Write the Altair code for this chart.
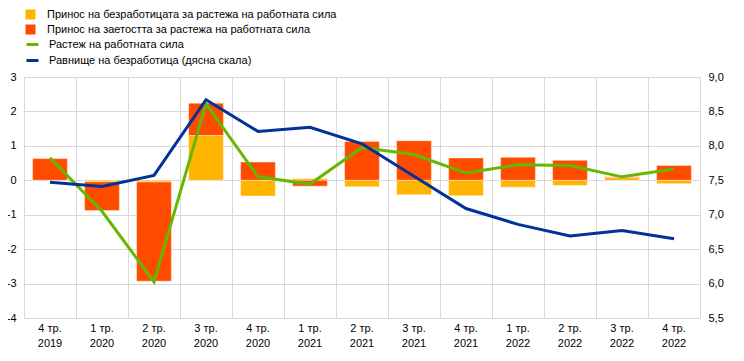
import altair as alt
import pandas as pd

quarters = ["4 тр.|2019", "1 тр.|2020", "2 тр.|2020", "3 тр.|2020", "4 тр.|2020",
            "1 тр.|2021", "2 тр.|2021", "3 тр.|2021", "4 тр.|2021",
            "1 тр.|2022", "2 тр.|2022", "3 тр.|2022", "4 тр.|2022"]
unemp_contrib = [0.0, -0.04, -0.05, 1.30, -0.46, 0.05, -0.19, -0.42, -0.45, -0.20, -0.15, 0.08, -0.10]
emp_contrib = [0.63, -0.84, -2.88, 0.94, 0.53, -0.17, 1.13, 1.15, 0.65, 0.67, 0.58, 0.02, 0.43]
labour_growth = [0.65, -0.90, -2.95, 2.22, 0.10, -0.11, 0.95, 0.75, 0.21, 0.45, 0.43, 0.10, 0.33]
unemp_rate = [7.47, 7.41, 7.57, 8.67, 8.21, 8.27, 8.03, 7.56, 7.09, 6.86, 6.69, 6.77, 6.65]

s_unemp = "Принос на безработицата за растежа на работната сила"
s_emp = "Принос на заетостта за растежа на работната сила"
s_lab = "Растеж на работната сила"
s_rate = "Равнище на безработица (дясна скала)"

bars = pd.DataFrame({
    "q": quarters * 2,
    "v": unemp_contrib + emp_contrib,
    "s": [s_unemp] * len(quarters) + [s_emp] * len(quarters),
    "o": [0] * len(quarters) + [1] * len(quarters),
})
lab = pd.DataFrame({"q": quarters, "v": labour_growth, "s": s_lab})
rate = pd.DataFrame({"q": quarters, "v": unemp_rate, "s": s_rate})

FONT = "Liberation Sans"
GRID = "#d9d9d9"

x = alt.X("q:N", sort=quarters, title=None,
          scale=alt.Scale(paddingInner=0, paddingOuter=0),
          axis=alt.Axis(labelExpr="split(datum.label, '|')", labelAngle=0,
                        ticks=False, domainColor=GRID, grid=True, gridColor=GRID,
                        bandPosition=0, labelPadding=4, labelFontSize=11,
                        labelLineHeight=15, labelFont=FONT, labelColor="#000"))

bar_layer = alt.Chart(bars).mark_bar(
    width=alt.RelativeBandSize(0.67), stroke="white", strokeWidth=1, strokeOpacity=0.45
).encode(
    x=x,
    y=alt.Y("v:Q", stack="zero", title=None,
            scale=alt.Scale(domain=[-4, 3], nice=False, zero=False),
            axis=alt.Axis(values=[-4, -3, -2, -1, 0, 1, 2, 3], labelExpr="toString(datum.value)",
                          ticks=False, domainColor=GRID, gridColor=GRID, labelPadding=8,
                          labelFontSize=11, labelFont=FONT, labelColor="#000")),
    fill=alt.Fill("s:N", scale=alt.Scale(domain=[s_unemp, s_emp], range=["#FFB400", "#FF4B00"]),
                  legend=alt.Legend(title=None, orient="none", legendX=1, legendY=-68,
                                    symbolType="square", symbolSize=100, labelOffset=11,
                                    rowPadding=3, labelFontSize=11, labelFont=FONT,
                                    labelLimit=600, labelColor="#000", symbolStrokeWidth=0)),
    order=alt.Order("o:Q"),
)

stroke_scale = alt.Scale(domain=[s_lab, s_rate], range=["#65B800", "#003299"])
stroke_legend = alt.Legend(title=None, orient="none", legendX=1, legendY=-40,
                           symbolType="stroke", symbolSize=144, symbolStrokeWidth=3,
                           labelOffset=9, rowPadding=2, labelFontSize=11, labelLimit=600,
                           labelFont=FONT, labelColor="#000")

lab_layer = alt.Chart(lab).mark_line(strokeWidth=3).encode(
    x=x,
    y=alt.Y("v:Q", scale=alt.Scale(domain=[-4, 3], nice=False, zero=False), axis=None),
    stroke=alt.Stroke("s:N", scale=stroke_scale, legend=stroke_legend),
)

rate_layer = alt.Chart(rate).mark_line(strokeWidth=3).encode(
    x=x,
    y=alt.Y("v:Q", title=None, scale=alt.Scale(domain=[5.5, 9.0], nice=False, zero=False),
            axis=alt.Axis(orient="right", values=[5.5, 6.0, 6.5, 7.0, 7.5, 8.0, 8.5, 9.0],
                          labelExpr="replace(format(datum.value, '.1f'), '.', ',')",
                          grid=False, ticks=False, domain=False, labelPadding=8,
                          labelFontSize=11, labelFont=FONT, labelColor="#000")),
    stroke=alt.Stroke("s:N", scale=stroke_scale, legend=stroke_legend),
)

chart = alt.layer(bar_layer, lab_layer, rate_layer).resolve_scale(
    y="independent"
).properties(
    width=676, height=241,
    autosize=alt.AutoSizeParams(type="none"),
    padding={"left": 16, "top": 69, "right": 36, "bottom": 35},
).configure_view(stroke=GRID)

chart.save("out.html", embed_options={"renderer": "svg", "actions": False})
